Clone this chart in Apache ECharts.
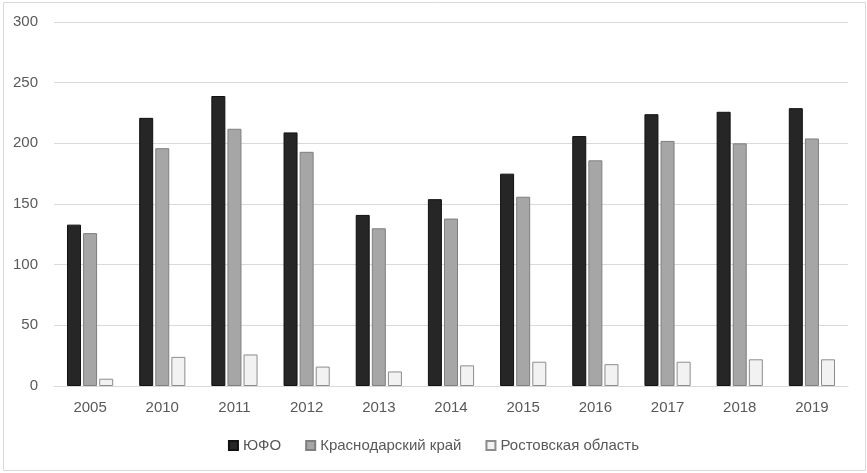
<!DOCTYPE html>
<html>
<head>
<meta charset="utf-8">
<script src="https://cdn.jsdelivr.net/npm/echarts@6/dist/echarts.min.js"></script>
<style>
  html, body { margin: 0; padding: 0; background: #fff; }
  #main { width: 867px; height: 473px; }
</style>
</head>
<body>
<div id="main"></div>
<script>
  const years = ['2005', '2010', '2011', '2012', '2013', '2014', '2015', '2016', '2017', '2018', '2019'];
  const ufo = [133, 221, 239, 209, 141, 154, 175, 206, 224, 226, 229];
  const krasnodar = [126, 196, 212, 193, 130, 138, 156, 186, 202, 200, 204];
  const rostov = [6, 24, 26, 16, 12, 17, 20, 18, 20, 22, 22];
  const yTicks = [0, 50, 100, 150, 200, 250, 300];

  const textColor = '#595959';
  const font = 'Liberation Sans';

  let chart = echarts.init(document.getElementById('main'));

  function barSeries(name, data, fill, border) {
    return {
      name: name,
      type: 'bar',
      data: data,
      barWidth: 14,
      barGap: '15%',
      itemStyle: {color: fill, borderColor: border, borderWidth: 1}
    };
  }

  chart.setOption({
    animation: false,
    textStyle: {fontFamily: font},
    graphic: [{
      type: 'rect',
      shape: {x: 3.5, y: 2.5, width: 862, height: 468},
      style: {fill: 'none', stroke: '#d9d9d9', lineWidth: 1}
    }],
    grid: {left: 54, right: 19, top: 22, bottom: 87},
    legend: {
      left: 'center',
      top: 433,
      itemWidth: 9,
      itemHeight: 9,
      itemGap: 24,
      icon: 'rect',
      textStyle: {color: textColor, fontSize: 15, fontFamily: font},
      data: ['ЮФО', 'Краснодарский край', 'Ростовская область']
    },
    xAxis: {
      type: 'category',
      data: years,
      axisLine: {lineStyle: {color: '#d9d9d9'}},
      axisTick: {show: false},
      axisLabel: {color: textColor, fontSize: 15, margin: 14}
    },
    yAxis: {
      type: 'value',
      min: yTicks[0],
      max: yTicks[yTicks.length - 1],
      interval: 50,
      axisLine: {show: false},
      axisTick: {show: false},
      splitLine: {lineStyle: {color: '#d9d9d9'}},
      axisLabel: {color: textColor, fontSize: 15, margin: 16}
    },
    series: [
      barSeries('ЮФО', ufo, '#262626', '#111111'),
      barSeries('Краснодарский край', krasnodar, '#a6a6a6', '#7f7f7f'),
      barSeries('Ростовская область', rostov, '#f2f2f2', '#8c8c8c')
    ]
  });
</script>
</body>
</html>
